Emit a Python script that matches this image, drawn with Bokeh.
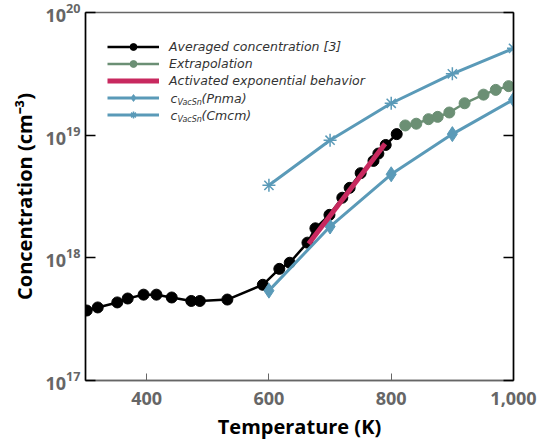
from bokeh.plotting import figure
from bokeh.models import (LogAxis, FixedTicker, NumeralTickFormatter, Legend, LegendItem,
                          Label, CustomJSTickFormatter, Range1d)
from bokeh.embed import file_html
from bokeh.resources import INLINE

# ---- data ----
avg_T = [302, 320, 352, 369, 395, 416, 441, 473, 487, 532, 590, 617, 634,
         663, 676, 699, 720, 732, 750, 771, 779, 791, 809]
avg_c = [3.72e17, 3.94e17, 4.33e17, 4.66e17, 5.01e17, 5.01e17, 4.75e17, 4.45e17, 4.45e17,
         4.57e17, 6.03e17, 8.13e17, 9.12e17,
         1.33e18, 1.74e18, 2.24e18, 3.09e18, 3.72e18, 4.9e18, 6.17e18, 7.08e18, 8.32e18, 1.02e19]

ext_T = [823, 841, 861, 876, 895, 920, 951, 971, 992]
ext_c = [1.2e19, 1.24e19, 1.35e19, 1.41e19, 1.53e19, 1.82e19, 2.14e19, 2.34e19, 2.51e19]

act_T = [665, 790]
act_c = [1.3e18, 8.5e18]

calc_T = [600, 700, 800, 900, 1000]
pnma_c = [5.4e17, 1.8e18, 4.8e18, 1.02e19, 1.95e19]
cmcm_c = [3.9e18, 9.1e18, 1.82e19, 3.16e19, 5.1e19]

x_ticks = [400, 600, 800, 1000]
y_ticks = [1e17, 1e18, 1e19, 1e20]

BLACK = "#000000"
GREEN = "#6b8f74"
PINK = "#c8295f"
BLUE = "#5a9ab8"
FONT = "Open Sans"
LFONT = "DejaVu Sans"
LCOL = "#333333"

p = figure(width=559, height=443, y_axis_type="log",
           x_range=Range1d(300, 1000), y_range=Range1d(1e17, 1e20),
           output_backend="svg", toolbar_location=None,
           min_border_left=85, min_border_right=46, min_border_top=12, min_border_bottom=63)
p.grid.visible = False
p.outline_line_color = "#666666"
p.outline_line_width = 1.5
p.background_fill_color = "white"
p.border_fill_color = "white"

# axes
xa = p.xaxis[0]
xa.ticker = FixedTicker(ticks=x_ticks)
xa.formatter = NumeralTickFormatter(format="0,0")
xa.axis_line_color = "#666666"
xa.axis_line_width = 1.5
xa.major_tick_line_color = "#666666"
xa.major_tick_in = 7
xa.major_tick_out = 0
xa.minor_tick_line_color = None
xa.major_label_text_font = FONT
xa.major_label_text_font_style = "bold"
xa.major_label_text_font_size = "18px"
xa.major_label_text_color = "#666666"
xa.major_label_standoff = 11
xa.axis_label = "Temperature (K)"
xa.axis_label_text_font = FONT
xa.axis_label_text_font_style = "bold"
xa.axis_label_text_font_size = "20px"
xa.axis_label_text_color = "black"
xa.axis_label_standoff = 5

ya = p.yaxis[0]
ya.ticker = FixedTicker(ticks=y_ticks)
ya.axis_line_color = "black"
ya.axis_line_width = 1.5
ya.major_tick_line_color = "black"
ya.major_tick_line_width = 1.5
ya.major_tick_in = 10
ya.major_tick_out = 0
ya.minor_tick_line_color = None
ya.major_label_text_font = FONT
ya.major_label_text_font_style = "bold"
ya.major_label_text_font_size = "18px"
ya.major_label_text_color = "#666666"
ya.major_label_standoff = 5
ya.axis_label = "Concentration (cm⁻³)"
ya.axis_label_text_font = FONT
ya.axis_label_text_font_style = "bold"
ya.axis_label_text_font_size = "20px"
ya.axis_label_text_color = "black"
ya.axis_label_standoff = 5

ra = LogAxis(ticker=FixedTicker(ticks=y_ticks),
             formatter=CustomJSTickFormatter(code="return ''"))
ra.axis_line_color = "black"
ra.axis_line_width = 1.5
ra.major_tick_line_color = "black"
ra.major_tick_line_width = 1.5
ra.major_tick_in = 10
ra.major_tick_out = 0
ra.minor_tick_line_color = None
ra.major_label_text_font_size = "1px"
ra.major_label_standoff = 0
p.add_layout(ra, "right")

# glyphs
l_avg = p.line(avg_T, avg_c, line_color=BLACK, line_width=2.5)
s_avg = p.scatter(avg_T, avg_c, marker="circle", size=11, fill_color=BLACK, line_color=BLACK)

l_ext = p.line(ext_T, ext_c, line_color=GREEN, line_width=2.5)
s_ext = p.scatter(ext_T, ext_c, marker="circle", size=11, fill_color=GREEN, line_color=GREEN)

l_pn = p.line(calc_T, pnma_c, line_color=BLUE, line_width=3)
s_pn = p.scatter(calc_T, pnma_c, marker="diamond", size=15, fill_color=BLUE, line_color=BLUE)

l_cm = p.line(calc_T, cmcm_c, line_color=BLUE, line_width=3)
s_cm = p.scatter(calc_T, cmcm_c, marker="asterisk", size=13, line_color=BLUE, line_width=1.5)

l_act = p.line(act_T, act_c, line_color=PINK, line_width=5)

legend = Legend(items=[
    LegendItem(label="Averaged concentration [3]", renderers=[l_avg, s_avg]),
    LegendItem(label="Extrapolation", renderers=[l_ext, s_ext]),
    LegendItem(label="Activated exponential behavior", renderers=[l_act]),
    LegendItem(label=" ", renderers=[l_pn, s_pn]),
    LegendItem(label=" ", renderers=[l_cm, s_cm]),
], location=(22, 257), orientation="vertical")
legend.glyph_width = 52
legend.glyph_height = 17
legend.label_height = 17
legend.spacing = 0
legend.padding = 0
legend.margin = 0
legend.label_standoff = 10
legend.border_line_color = None
legend.background_fill_alpha = 0
legend.label_text_font = LFONT
legend.label_text_font_style = "italic"
legend.label_text_font_size = "12.5px"
legend.label_text_color = LCOL
p.add_layout(legend)

# subscripted legend labels (c_VacSn)
for yy, tail in [(282.5, "(Pnma)"), (265.5, "(Cmcm)")]:
    p.add_layout(Label(x=85, y=yy, x_units="screen", y_units="screen", text="c",
                       text_font=LFONT, text_font_style="italic", text_font_size="12.5px",
                       text_color=LCOL, text_baseline="middle"))
    p.add_layout(Label(x=92, y=yy - 4, x_units="screen", y_units="screen", text="VacSn",
                       text_font=LFONT, text_font_style="italic", text_font_size="8px",
                       text_color=LCOL, text_baseline="middle"))
    p.add_layout(Label(x=116, y=yy, x_units="screen", y_units="screen", text=tail,
                       text_font=LFONT, text_font_style="italic", text_font_size="12.5px",
                       text_color=LCOL, text_baseline="middle"))

open("out.html", "w").write(file_html(p, INLINE))
